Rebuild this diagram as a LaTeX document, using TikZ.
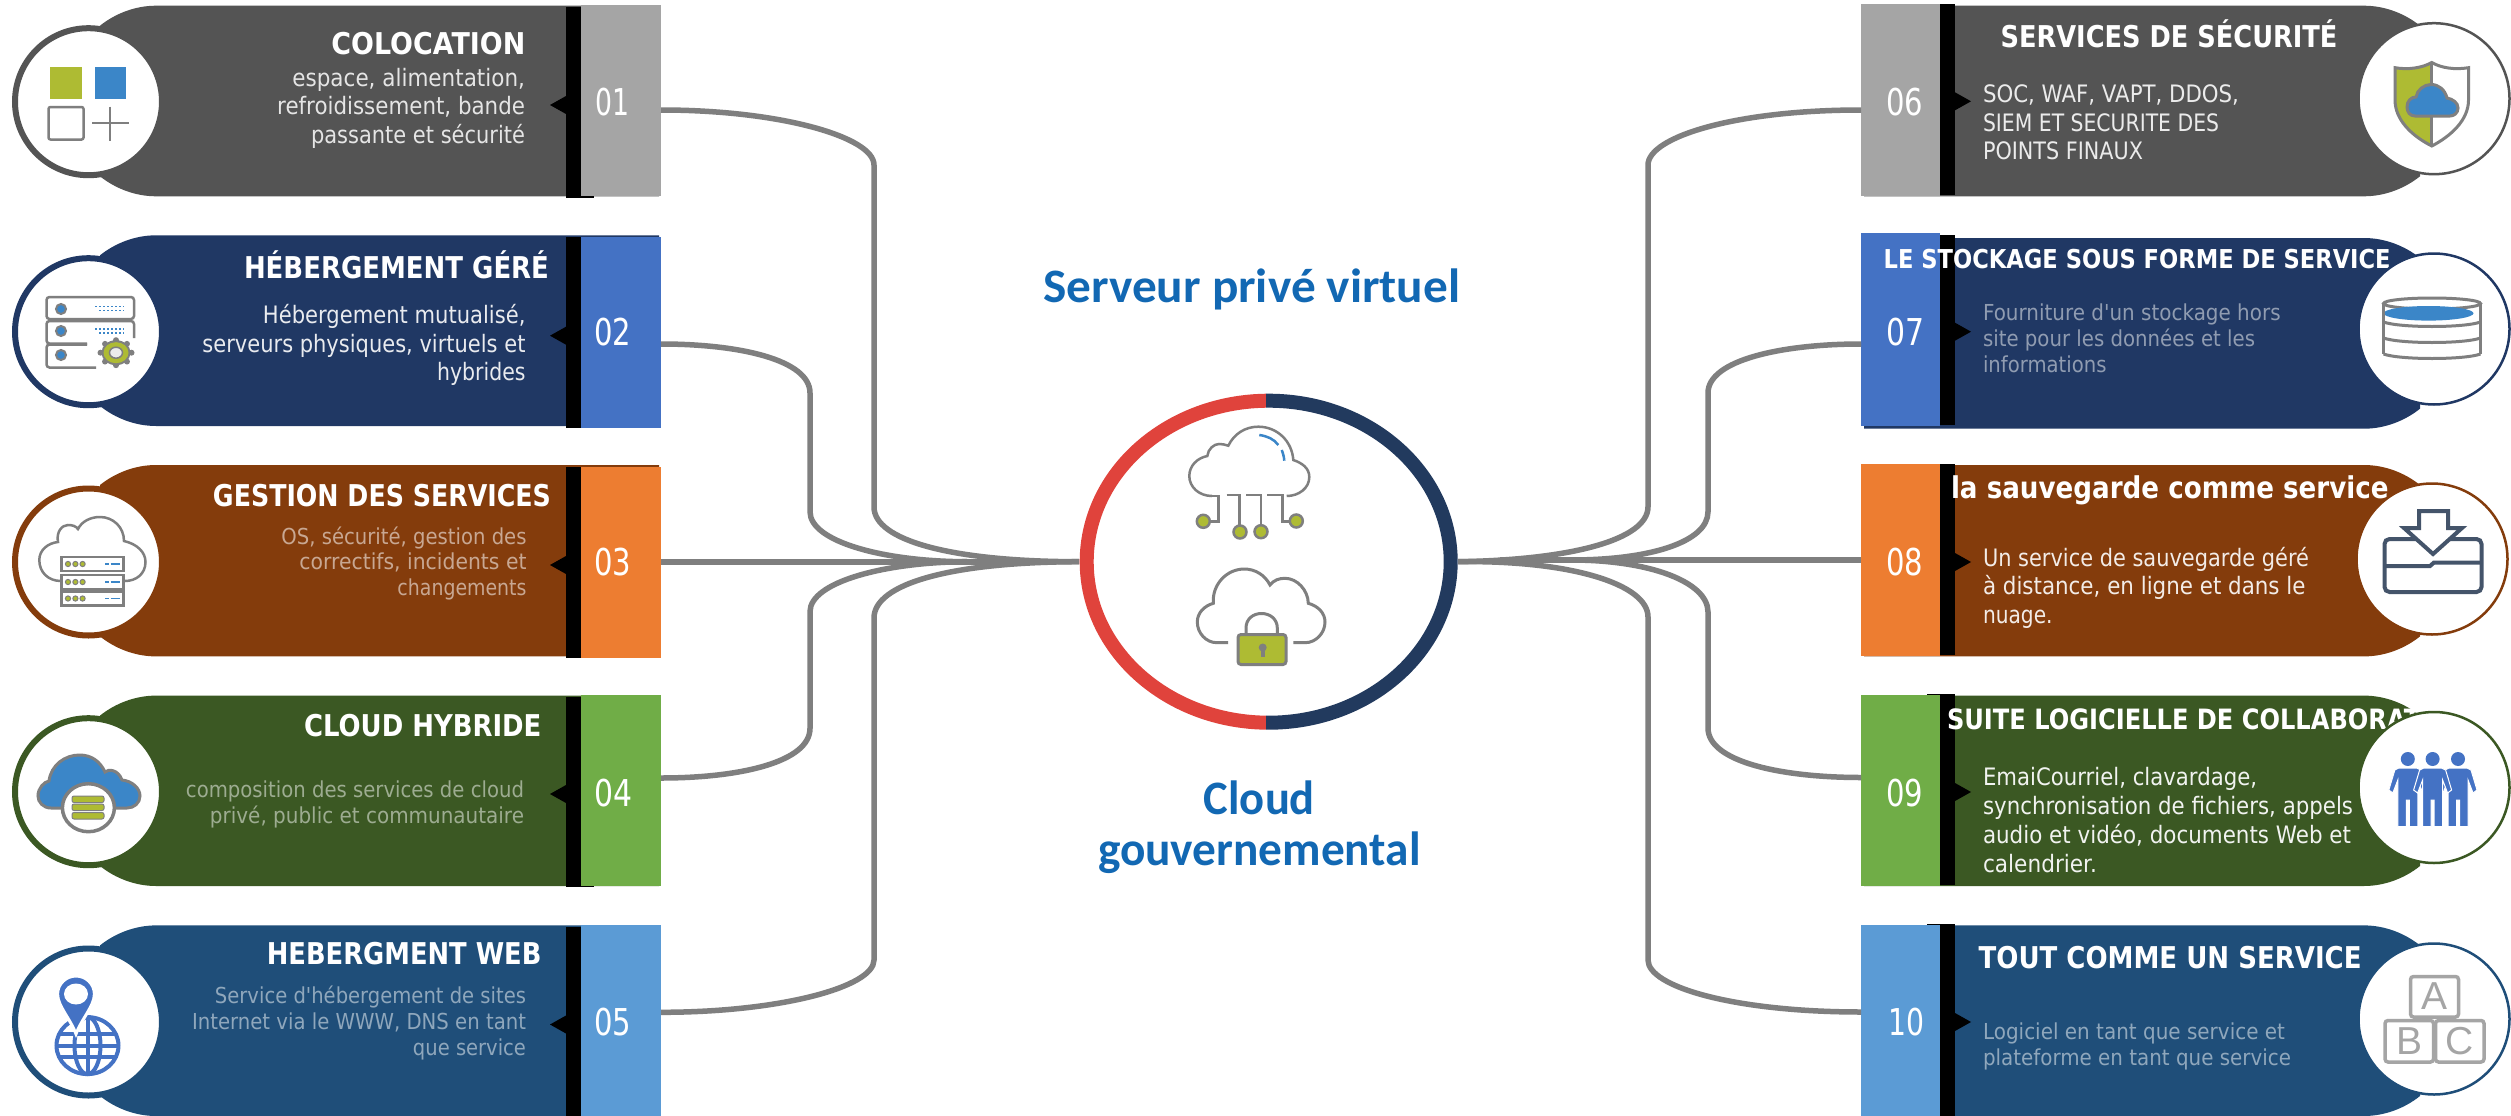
\documentclass[tikz,border=0pt]{standalone}
\usepackage{fontspec}
\usepackage{graphicx}
\usetikzlibrary{shapes.geometric,calc}
\newfontfamily\dvfont{DejaVu Sans}
\newfontfamily\crfont{Carlito}
\newfontfamily\lsfont{Liberation Sans}
\newcommand\sz[2]{\fontsize{#1pt}{#2pt}\selectfont}
\newcommand\fitline[2]{\resizebox{#1pt}{\height}{#2}}
\newcommand\bl[2]{\strut\fitline{#1}{#2}}
\definecolor{grayD}{HTML}{545454}\definecolor{grayL}{HTML}{A5A5A5}
\definecolor{navyD}{HTML}{203864}\definecolor{navyL}{HTML}{4472C4}
\definecolor{brownD}{HTML}{843C0C}\definecolor{brownL}{HTML}{ED7D31}
\definecolor{greenD}{HTML}{3B5823}\definecolor{greenL}{HTML}{70AD47}
\definecolor{blueD}{HTML}{1F4E79}\definecolor{blueL}{HTML}{5B9BD5}
\definecolor{icgrey}{HTML}{7F7F7F}\definecolor{icgreen}{HTML}{AEBB33}
\definecolor{icblue}{HTML}{3B86C8}\definecolor{icnavy}{HTML}{44546A}
\definecolor{ringred}{HTML}{E0433C}\definecolor{ringnavy}{HTML}{223A5E}
\definecolor{headblue}{HTML}{1268B3}
\tikzset{
  numbox/.style={rectangle,inner sep=0pt,outer sep=0pt,draw=none},
  conn/.style={draw=icgrey,line width=5.5pt},
  titlet/.style={font=\dvfont\bfseries\sz{30}{36},text=white,inner sep=0pt,outer sep=0pt},
  numt/.style={font=\dvfont\sz{37}{44},text=white,inner sep=0pt,outer sep=0pt,anchor=base},
  bodyl/.style={font=\dvfont\sz{24}{28.5},inner sep=0pt,outer sep=0pt},
  bodys/.style={font=\dvfont\sz{22}{25.7},inner sep=0pt,outer sep=0pt},
  ic/.style={draw=icgrey,line width=2.5pt},
  headt/.style={font=\crfont\bfseries\sz{48}{51.3},text=headblue,inner sep=0pt,outer sep=0pt},
}
\begin{document}
\begin{tikzpicture}[x=1pt,y=-1pt]
\useasboundingbox (0,0) rectangle (2511,1116);
\fill[white] (0,0) rectangle (2511,1116);
% ---------- left cards
\foreach \id/\pt/\pb/\bt/\bb/\rt/\rb/\tip/\cd/\cl in {
 01/5.7/196.3/5/196.3/6.7/197.7/105/grayD/grayL,
 02/235.3/426/236.7/427.7/236.7/427.7/335.7/navyD/navyL,
 03/465/656.4/467/657.7/467/657.7/565/brownD/brownL,
 04/695.6/886/694.7/886/696.5/887/794/greenD/greenL,
 05/925.4/1116/925.4/1116/927/1116/1024.5/blueD/blueL}{
  \fill[\cd] (659,\pt) -- (156,\pt) .. controls (135,\pt) and (115,{\pt+8}) .. (100,{\pt+20}) -- (100,{\pb-20}) .. controls (115,{\pb-8}) and (135,\pb) .. (156,\pb) -- (659,\pb) -- cycle;
  \pgfmathsetmacro\bh{\bb-\bt}\pgfmathsetmacro\bc{(\bb+\bt)/2}
  \node[numbox,fill=\cl,minimum width=80pt,minimum height=\bh pt] (n\id) at (621,\bc) {};
  \fill[black] (566,\rt) rectangle (581,\rb);
  \fill[black] (550,\tip) -- (566,{\tip-9}) -- (566,{\tip+9}) -- cycle;
}
\fill[black] (581,196.3) rectangle (594,197.7);
\fill[black] (581,886) rectangle (594,887);
% ---------- right cards
\foreach \id/\pt/\pb/\bt/\bb/\rt/\rb/\tip/\cd/\cl in {
 06/5.7/196.3/4.3/196.3/4/195.3/101.3/grayD/grayL,
 07/238/428.7/233/426/235/425/331.7/navyD/navyL,
 08/465/656.4/464/656.4/464/654.7/562/brownD/brownL,
 09/695.6/886/694.7/886/694/885/792/greenD/greenL,
 10/925.4/1116/925.4/1116/924/1116/1022/blueD/blueL}{
  \fill[\cd] (1864,\pt) -- (2364,\pt) .. controls (2385,\pt) and (2405,{\pt+8}) .. (2420,{\pt+20}) -- (2420,{\pb-20}) .. controls (2405,{\pb-8}) and (2385,\pb) .. (2364,\pb) -- (1864,\pb) -- cycle;
  \pgfmathsetmacro\bh{\bb-\bt}\pgfmathsetmacro\bc{(\bb+\bt)/2}
  \node[numbox,fill=\cl,minimum width=79pt,minimum height=\bh pt] (n\id) at (1900.5,\bc) {};
  \fill[black] (1940,\rt) rectangle (1955,\rb);
  \fill[black] (1971,\tip) -- (1955,{\tip-9}) -- (1955,{\tip+9}) -- cycle;
}
\fill[black] (1927,694) rectangle (1940,695);
\fill[black] (1927,924) rectangle (1940,925.4);
% ---------- hub and connectors
\node[ellipse,inner sep=0pt,outer sep=0pt,minimum width=379pt,minimum height=335pt] (hub) at (1268.7,561.7) {};
\coordinate (j02) at (967,561.7);
\coordinate (j03) at (1017,562);
\coordinate (j07) at (1571,560);
\coordinate (j08) at (1500,560);
\draw[conn] (n01.east |- 0,110) .. controls (780,110) and (874,137) .. (874,165) -- (874,507) .. controls (874,540) and (950,561.7) .. (hub.west);
\draw[conn] (n02.east |- 0,344) .. controls (740,344) and (810,360) .. (810,393) -- (810,511.7) .. controls (810,542) and (885,561.7) .. (j02);
\draw[conn] (n03.east |- 0,562) -- (j03);
\draw[conn] (n04.east |- 0,778) .. controls (740,778) and (810,762) .. (810,728.3) -- (810,611.7) .. controls (810,582) and (885,562) .. (j02);
\draw[conn] (n05.east |- 0,1012.3) .. controls (780,1012.3) and (874,987) .. (874,960) -- (874,618) .. controls (874,584) and (950,562) .. (hub.west);
\draw[conn] (n06.west |- 0,110) .. controls (1735,110) and (1648,137) .. (1648,165) -- (1648,506.7) .. controls (1648,540) and (1570,560) .. (hub.east);
\draw[conn] (n07.west |- 0,344) .. controls (1782,344) and (1708,360) .. (1708,393) -- (1708,511.7) .. controls (1708,542) and (1650,560) .. (j07);
\draw[conn] (n08.west |- 0,560) -- (j08);
\draw[conn] (n09.west |- 0,777.5) .. controls (1782,777.5) and (1708,762) .. (1708,728) -- (1708,612) .. controls (1708,582) and (1650,560) .. (j07);
\draw[conn] (n10.west |- 0,1012) .. controls (1735,1012) and (1648,987) .. (1648,960) -- (1648,617) .. controls (1648,584) and (1570,560) .. (hub.east);
% ---------- ring
\begin{scope}
\clip (1000,380) rectangle (1266,745);
\draw[ringred,line width=14pt] (1268.7,561.7) ellipse[x radius=182pt,y radius=161pt];
\end{scope}
\begin{scope}
\clip (1266,380) rectangle (1500,745);
\draw[ringnavy,line width=14pt] (1268.7,561.7) ellipse[x radius=182pt,y radius=161pt];
\end{scope}
% ---------- numbers
\node[numt] (t01) at (612,115) {\fitline{34}{01}};
\node[numt] (t02) at (612.5,345) {\fitline{37}{02}};
\node[numt] (t03) at (612.5,575.8) {\fitline{37}{03}};
\node[numt] (t04) at (613,806.4) {\fitline{38}{04}};
\node[numt] (t05) at (612.5,1035.7) {\fitline{37}{05}};
\node[numt] (t06) at (1904.5,115) {\fitline{37}{06}};
\node[numt] (t07) at (1905,345) {\fitline{38}{07}};
\node[numt] (t08) at (1904.5,575.8) {\fitline{37}{08}};
\node[numt] (t09) at (1904.5,806.4) {\fitline{37}{09}};
\node[numt] (t10) at (1906,1035.7) {\fitline{36}{10}};
% ---------- titles
\node[titlet,anchor=base east] (h01) at (525.4,54.3) {\fitline{194}{COLOCATION}};
\node[titlet,anchor=base east] (h02) at (549,278.7) {\fitline{305}{HÉBERGEMENT GÉRÉ}};
\node[titlet,anchor=base east] (h03) at (551,506) {\fitline{338}{GESTION DES SERVICES}};
\node[titlet,anchor=base east] (h04) at (541.5,736.5) {\fitline{237.5}{CLOUD HYBRIDE}};
\node[titlet,anchor=base east] (h05) at (541.5,964) {\fitline{274.6}{HEBERGMENT WEB}};
\node[titlet,anchor=base west] (h06) at (2000.5,47.7) {\fitline{337}{SERVICES DE SÉCURITÉ}};
\node[titlet,anchor=base west,font=\dvfont\bfseries\sz{26}{32}] (h07) at (1883.7,268.3) {\fitline{507}{LE STOCKAGE SOUS FORME DE SERVICE}};
\node[titlet,anchor=base west] (h08) at (1951,498) {\fitline{437.6}{la sauvegarde comme service}};
\node[titlet,anchor=base west,font=\dvfont\bfseries\sz{28}{34}] (h09) at (1947,729.7) {\fitline{523}{SUITE LOGICIELLE DE COLLABORATION}};
\node[titlet,anchor=base west] (h10) at (1978.6,968) {\fitline{383}{TOUT COMME UN SERVICE}};
% ---------- body texts
\node[bodyl,anchor=east,align=right,text=white!85!grayD] (b01) at (525,109) {\bl{232.6}{espace, alimentation,}\\\bl{247.8}{refroidissement, bande}\\\bl{214}{passante et sécurité}};
\node[bodyl,anchor=east,align=right,text=white!90!navyD] (b02) at (525.5,346.5) {\bl{262.5}{Hébergement mutualisé,}\\\bl{323}{serveurs physiques, virtuels et}\\\bl{88.4}{hybrides}};
\node[bodys,anchor=east,align=right,text=white!55!brownD] (b03) at (526.5,564.7) {\bl{245}{OS, sécurité, gestion des}\\\bl{227}{correctifs, incidents et}\\\bl{129}{changements}};
\node[bodys,anchor=east,align=right,text=white!50!greenD] (b04) at (524,805.7) {\bl{338}{composition des services de cloud}\\\bl{314}{privé, public et communautaire}};
\node[bodys,anchor=east,align=right,text=white!50!blueD] (b05) at (526,1024.5) {\bl{311}{Service d'hébergement de sites}\\\bl{334}{Internet via le WWW, DNS en tant}\\\bl{113}{que service}};
\node[bodyl,anchor=west,align=left,text=white!88!grayD] (b06) at (1983,125.3) {\bl{256}{SOC, WAF, VAPT, DDOS,}\\\bl{236}{SIEM ET SECURITE DES}\\\bl{160}{POINTS FINAUX}};
\node[bodys,anchor=west,align=left,text=white!50!navyD] (b07) at (1983,341.4) {\bl{297.6}{Fourniture d'un stockage hors}\\\bl{272}{site pour les données et les}\\\bl{123.5}{informations}};
\node[bodyl,anchor=west,align=left,text=white!90!brownD] (b08) at (1983,589) {\bl{326}{Un service de sauvegarde géré}\\\bl{322.5}{à distance, en ligne et dans le}\\\bl{69.6}{nuage.}};
\node[bodyl,anchor=west,align=left,text=white!93!greenD,font=\dvfont\sz{24}{29}] (b09) at (1983,823) {\bl{274}{EmaiCourriel, clavardage,}\\\bl{370}{synchronisation de fichiers, appels}\\\bl{368}{audio et vidéo, documents Web et}\\\bl{114}{calendrier.}};
\node[bodys,anchor=west,align=left,text=white!50!blueD] (b10) at (1983,1047) {\bl{302}{Logiciel en tant que service et}\\\bl{308}{plateforme en tant que service}};
% ---------- centre headings
\node[headt,anchor=base] (hv) at (1251.8,302.7) {\fitline{417}{Serveur privé virtuel}};
\node[headt,align=center] (hg) at (1259.4,829.5) {\bl{111}{Cloud}\\\bl{322.7}{gouvernemental}};
% ---------- icon discs
\foreach \cy/\cd in {101.7/grayD,331.7/navyD,562/brownD,791.7/greenD,1022/blueD}{
  \draw[fill=white,draw=\cd,line width=6pt] (88.5,\cy) circle[radius=73.5pt];
}
\foreach \cx/\cy/\cd in {2434/98.7/grayD,2434/329/navyD,2432/559/brownD,2434/787.5/greenD,2434/1019/blueD}{
  \draw[fill=white,draw=\cd,line width=2.5pt] (\cx,\cy) circle[radius=75.5pt];
}
% icon 01
\fill[icgreen] (50,67) rectangle (82,98.7);
\fill[icblue] (95,67) rectangle (126,98.7);
\draw[ic,rounded corners=2pt] (48.5,107) rectangle (83.5,139.5);
\draw[ic] (92,123) -- (128.5,123) (110,106.5) -- (110,140.5);
% icon 02
\draw[ic,rounded corners=3pt] (46.5,297) rectangle (134,319);
\draw[ic,rounded corners=3pt] (134,338) -- (134,321) -- (46.5,321) -- (46.5,343.5) -- (87,343.5);
\draw[ic,rounded corners=3pt] (96,367.5) -- (46.5,367.5) -- (46.5,344.5) -- (87,344.5);
\foreach \yy in {309,331,355}{\draw[fill=icblue,draw=icgrey,line width=2pt] (61,\yy) circle[radius=5pt];}
\foreach \yy in {306.5,329}{
 \draw[icblue,line width=1.5pt,dash pattern=on 2pt off 2pt] (95,\yy) -- (124,\yy);
 \draw[icblue,line width=1.5pt,dash pattern=on 2pt off 2pt] (99,{\yy+4}) -- (124,{\yy+4});}
\foreach \a in {0,45,...,315}{\fill[icgrey] ({116+15.5*cos(\a)},{352.7+12.5*sin(\a)}) circle[radius=3pt];}
\fill[icgrey] (116,352.7) ellipse[x radius=14.5pt,y radius=12.5pt];
\fill[icgreen] (116,352.7) ellipse[x radius=12.5pt,y radius=10.5pt];
\draw[fill=white!85!icgrey,draw=icgrey,line width=1.5pt] (116,352.7) ellipse[x radius=6.5pt,y radius=5.5pt];
% icon 03
\draw[ic] (61,581) .. controls (48,581) and (39.3,572) .. (39.3,560) .. controls (39.3,550) and (48,543) .. (58,542) .. controls (56,532) and (62,525) .. (68,525) .. controls (72,525) and (76,526) .. (78,529) .. controls (82,521) and (91,517) .. (100,517) .. controls (113,517) and (124,527) .. (124,541) .. controls (137,544) and (145.5,552) .. (145.5,562) .. controls (145.5,574) and (136,581) .. (125,581);
\foreach \yt in {557,575,591.5}{
 \draw[ic,fill=white] (61.6,\yt) rectangle (123.7,{\yt+14});
 \foreach \xd in {68,75.4,82.6}{\draw[fill=icgreen,draw=icgrey,line width=1pt] (\xd,{\yt+7}) circle[radius=2.6pt];}
 \draw[icblue,line width=1.5pt] (105,{\yt+7}) -- (108.5,{\yt+7}) (110.5,{\yt+7}) -- (120,{\yt+7});
}
% icon 04
\draw[fill=icblue,draw=icgrey,line width=3pt] (51,808) .. controls (43,808) and (38,802) .. (38,796) .. controls (38,788) and (44,782) .. (49,781) .. controls (51,765) and (65,755) .. (79.5,755) .. controls (91,755) and (100,761) .. (105,772) .. controls (108,769) and (118,769) .. (122,780) .. controls (132,781) and (140,788) .. (140,796) .. controls (140,803) and (134,808) .. (127,808) -- cycle;
\draw[fill=white,draw=icgrey,line width=3.5pt] (88.4,807.7) ellipse[x radius=26pt,y radius=24pt];
\foreach \yt in {796,804,812.5}{\draw[fill=icgreen,draw=icgrey,line width=1pt,rounded corners=2pt] (72,\yt) rectangle (104,{\yt+6.5});}
% icon 05
\draw[navyL,line width=4pt] (87.5,1045.6) ellipse[x radius=31pt,y radius=28.5pt];
\draw[navyL,line width=4pt] (87.5,1045.6) ellipse[x radius=13pt,y radius=28.5pt];
\draw[navyL,line width=4pt] (87.5,1017) -- (87.5,1074) (56,1045.6) -- (119,1045.6) (60,1034) -- (115,1034) (60,1057) -- (115,1057);
\draw[navyL,fill=navyL,draw=white,line width=3pt] (76,1034) .. controls (70,1018) and (57.6,1006) .. (57.6,994) .. controls (57.6,984) and (66,976) .. (76,976) .. controls (86,976) and (94.4,984) .. (94.4,994) .. controls (94.4,1006) and (82,1018) .. cycle;
\fill[white] (76,994) ellipse[x radius=12pt,y radius=10.5pt];
% icon 06
\begin{scope}
\clip (2380,55) rectangle (2431.8,150);
\fill[icgreen] (2431.8,62.5) .. controls (2422,68) and (2408,70) .. (2395,67.7) -- (2395,100) .. controls (2395,120) and (2412,136) .. (2431.8,146) -- cycle;
\end{scope}
\draw[ic,line width=3pt] (2431.8,62.5) .. controls (2422,68) and (2408,70) .. (2395,67.7) -- (2395,100) .. controls (2395,120) and (2412,136) .. (2431.8,146) .. controls (2451,136) and (2468.5,120) .. (2468.5,100) -- (2468.5,67.7) .. controls (2455,70) and (2441,68) .. cycle;
\draw[ic,line width=3pt] (2431.8,63) -- (2431.8,146);
\draw[fill=icblue,draw=icgrey,line width=3pt] (2415,116) .. controls (2410,116) and (2407,112) .. (2407,107) .. controls (2407,101) and (2411,97) .. (2416,97) .. controls (2417,90) and (2424,84.5) .. (2431,84.5) .. controls (2439,84.5) and (2445,90) .. (2447,98) .. controls (2453,99) and (2458,103) .. (2458,108) .. controls (2458,113) and (2454,116) .. (2450,116) -- cycle;
% icon 07
\draw[ic,line width=3pt] (2432,303.5) ellipse[x radius=48.5pt,y radius=5.5pt];
\fill[icblue] (2428.5,313.3) ellipse[x radius=45pt,y radius=7.3pt];
\draw[ic,line width=3pt] (2383.5,303.5) -- (2383.5,354) (2480.5,303.5) -- (2480.5,354);
\foreach \yy in {322,338,354}{\draw[ic,line width=3pt] (2383.5,\yy) .. controls (2400,{\yy+6}) and (2464,{\yy+6}) .. (2480.5,\yy);}
% icon 08
\draw[icnavy,line width=4pt,rounded corners=5pt] (2384.5,592) -- (2384.5,539) -- (2481.5,539) -- (2481.5,592) -- cycle;
\draw[icnavy,line width=4pt] (2384.5,566) -- (2430,566) -- (2434,562.5) -- (2481.5,562.5);
\draw[fill=white,draw=icnavy,line width=4pt] (2419,511) -- (2448,511) -- (2448,528) -- (2462,528) -- (2433,554) -- (2404,528) -- (2419,528) -- cycle;
% icon 09
\foreach \px in {2407.8,2458,2432.6}{
 \fill[navyL] (\px,759) circle[radius=7pt];
 \draw[fill=navyL,draw=white,line width=1pt] ({\px-9},768) -- ({\px+9},768) -- ({\px+13},770) -- ({\px+19},790) -- ({\px+15},793) -- ({\px+10},780) -- ({\px+10},826.6) -- ({\px+1.5},826.6) -- ({\px+1.5},800) -- ({\px-1.5},800) -- ({\px-1.5},826.6) -- ({\px-10},826.6) -- ({\px-10},780) -- ({\px-15},793) -- ({\px-19},790) -- ({\px-13},770) -- cycle;
}
% icon 10
\draw[draw=grayL,line width=3.5pt,rounded corners=3pt] (2410.5,976.5) rectangle (2458.5,1017);
\draw[draw=grayL,line width=3.5pt,rounded corners=3pt] (2385,1020.5) rectangle (2433.5,1062);
\draw[draw=grayL,line width=3.5pt,rounded corners=3pt] (2435.5,1020.5) rectangle (2484,1062);
\node[text=grayL,font=\lsfont\sz{39}{44},inner sep=0pt] (la) at (2434,996.5) {A};
\node[text=grayL,font=\lsfont\sz{39}{44},inner sep=0pt] (lb) at (2409,1041) {B};
\node[text=grayL,font=\lsfont\sz{39}{44},inner sep=0pt] (lc) at (2460,1041) {C};
% centre top cloud
\draw[ic] (1212,496) .. controls (1199,496) and (1189.3,487) .. (1189.3,476) .. controls (1189.3,466) and (1197,458) .. (1207.3,456) .. controls (1208,449) and (1214,444) .. (1219,444) .. controls (1222,444) and (1225,444.5) .. (1228.3,445.7) .. controls (1234,434) and (1245,426.7) .. (1258.3,426.7) .. controls (1277,426.7) and (1292,441) .. (1293.3,460) .. controls (1302,463) and (1309.3,468) .. (1309.3,477) .. controls (1309.3,488) and (1299,496) .. (1286.7,496);
\draw[ic] (1212,496) -- (1218.5,496) -- (1218.5,521.7) -- (1210,521.7);
\draw[ic] (1226.7,495) -- (1239.3,495) -- (1239.3,525);
\draw[ic] (1246,495) -- (1261,495) -- (1261,525);
\draw[ic] (1267.3,495) -- (1282.7,495) -- (1282.7,521.7) -- (1289,521.7);
\foreach \dx/\dy in {1203.3/521.3,1240/532,1261/531.7,1296.3/521}{\draw[fill=icgreen,draw=icgrey,line width=2.5pt] (\dx,\dy) circle[radius=6.5pt];}
\draw[icblue,line width=2.5pt] (1259.3,435) .. controls (1267,436) and (1274,439) .. (1278.3,445);
\draw[icblue,line width=2.5pt] (1281.7,450) .. controls (1283,453) and (1284,457) .. (1284.3,460.7);
% centre lock cloud
\draw[ic,line width=3pt] (1228,642.7) -- (1217,642.7) .. controls (1206,642.7) and (1197.3,633) .. (1197.3,622) .. controls (1197.3,613) and (1204,606) .. (1213.3,603.3) .. controls (1212,584) and (1227,569) .. (1244.3,569) .. controls (1255,569) and (1265,575) .. (1270,585) .. controls (1274,580) and (1279,578.3) .. (1285,578.3) .. controls (1297,578.3) and (1308,590) .. (1308.3,603.3) .. controls (1318,606) and (1325,613) .. (1325,622) .. controls (1325,633) and (1316,642.7) .. (1305,642.7) -- (1293.3,642.7);
\draw[ic,line width=3pt] (1246,634) -- (1246,628) .. controls (1246,619) and (1253,613.5) .. (1261.5,613.5) .. controls (1270,613.5) and (1277.3,619) .. (1277.3,628) -- (1277.3,634);
\draw[fill=icgreen,draw=icgrey,line width=3pt,rounded corners=3pt] (1238,634.5) rectangle (1286,664.5);
\fill[icgrey] (1262.7,647.5) circle[radius=4pt];
\fill[icgrey] (1261,648) rectangle (1264.5,657);
\end{tikzpicture}
\end{document}
